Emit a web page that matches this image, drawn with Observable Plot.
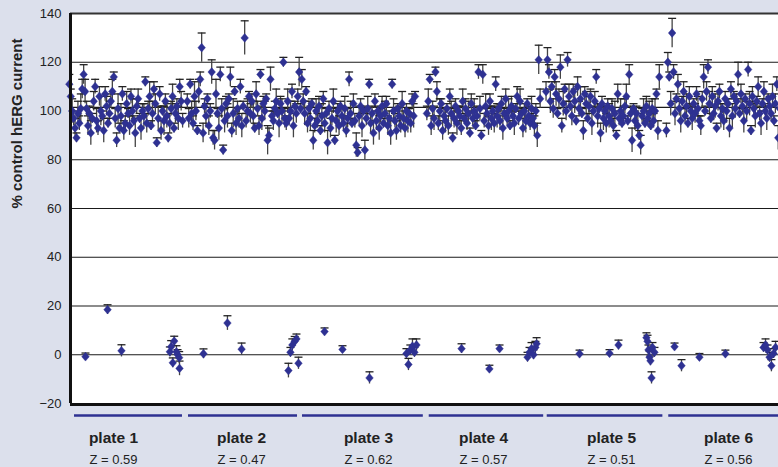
<!DOCTYPE html>
<html><head><meta charset="utf-8">
<script src="https://cdn.jsdelivr.net/npm/d3@7"></script>
<script src="https://cdn.jsdelivr.net/npm/@observablehq/plot@0.6"></script>
<style>
html,body{margin:0;padding:0;background:#dce0ec;}
#chart{width:778px;height:467px;overflow:hidden;}
</style></head><body><div id="chart"></div>
<script>
// ---- categories / labels ----
const plateNames = ["plate 1","plate 2","plate 3","plate 4","plate 5","plate 6"];
const zScores = ["Z = 0.59","Z = 0.47","Z = 0.62","Z = 0.57","Z = 0.51","Z = 0.56"];
// well-position extents of each plate (x data units = well index along the run)
const plateStart = [-1, 99, 196, 302, 403, 505];
const plateSpan = 96;
const lineStart = [3.4, 100, 196.6, 304, 404, 507];
const lineEnd = [94.9, 192.4, 299, 401, 502, 612];
const labelX = [36.4, 145, 252.5, 350, 458.5, 557.6];
const yTicks = [-20, 0, 20, 40, 60, 80, 100, 120, 140];
const gridValues = [0, 20, 40, 60, 80, 120];
const controlMean = 101.5;

// ---- test compounds, % control hERG current, per plate ----
const plate1 = [111,106,100,97,93,89,99,95,101,109, 115,108,101,94,99,91,97,104,110,96,
  93,106,100,98,92,107,102,95,99,104, 108,114,97,88,101,93,98,107,92,95,
  103,99,94,106,100,96,91,102,105,97, 93,100,98,112,95,101,106,94,99,109,
  103,87,97,107,92,100,96,104,98,89, 95,101,106,93,99,102,97,110,104,96];
const plate2 = [104,97,111,99,95,106,100,92,108,113, 126,91,102,98,105,94,100,116,89,88,
  107,99,93,115,101,84,96,103,98,105, 114,92,99,108,95,101,97,110,94,102,
  130,96,100,106,99,104,98,93,107,101, 94,115,97,103,100,105,88,90,113,98,
  96,101,104,99,95,103,100,120,97,95, 104,97,100,108,94,102,99,106,116,101];
const plate3 = [113,104,99,108,95,101,97,103,88,94, 100,96,102,92,98,105,95,99,87,101,
  93,97,104,88,96,100,94,102,98,95, 101,92,97,113,99,95,103,96,86,83,
  98,102,94,100,84,97,101,111,95,99, 91,104,96,100,93,98,102,95,99,103,
  94,97,91,111,100,96,92,101,98,94, 103,97,93,100,96,99,95,104,98,106];
const plate4 = [99,104,113,94,101,97,116,108,95,100, 103,92,98,96,101,94,106,99,89,97,
  102,95,100,98,93,104,97,101,95,99, 91,103,97,100,94,98,116,101,90,115,
  96,102,99,94,104,97,100,95,111,98, 101,96,103,93,99,105,97,100,94,102,
  98,95,101,106,97,104,99,93,100,96, 103,98,95,101,97,94,100,90,121,105];
const plate5 = [108,121,116,104,110,101,114,107,99,105, 118,94,103,109,100,121,106,102,98,108,
  104,96,110,101,105,99,92,107,103,97, 102,106,95,100,104,114,98,101,91,103,
  97,100,95,102,98,96,101,94,99,90, 107,97,100,95,98,102,106,96,115,99,
  88,101,96,99,94,90,86,98,100,95, 102,97,99,94,101,96,100,107,92,114];
const plate6 = [92,120,114,103,132,116,99,105,111,101, 96,104,108,98,102,95,106,100,97,103,
  99,107,101,96,94,105,114,100,108,118, 103,97,106,99,102,93,104,108,98,101,
  96,105,100,103,93,109,98,106,101,104, 115,99,107,102,96,105,100,117,103,92,
  106,101,98,104,110,99,95,103,108,100, 97,105,102,99,106,96,103,111,89,101];

// ---- error bar half-widths (one digit per well) ----
const err1 = "4353425364"+"4534352435"+"3462534253"+"5243625343"+"5243526342"+"5352436253"+"4253426352"+"4352435343";
const err2 = "3425364253"+"6435243534"+"6253425352"+"4362534352"+"7352436253"+"4253426352"+"4352635243"+"5343524362";
const err3 = "4352435243"+"5342534253"+"4352534243"+"5343524352"+"4352435243"+"5342534253"+"4352534243"+"5343524352";
const err4 = "3524352435"+"2435243524"+"3524352435"+"2435243524"+"3524352435"+"2435243524"+"3524352435"+"2435243564";
const err5 = "4535243524"+"5352435243"+"5243524352"+"4352435243"+"5243524352"+"4352435243"+"5243524352"+"4352435245";
const err6 = "3425635243"+"5243524352"+"4352435243"+"5243524352"+"4352435243"+"5243524352"+"4352435243"+"5243524352";

// ---- positive controls (near 0 %) ----
const ctrlWell = [12.7,31.4,43.2,84.2,85.3,86.7,87.9,89.8,90.7,92.1,92.4,
  112.7,133,145,184.7,186.4,188,190,191.5,193.2,
  215.3,230.5,253.4,284.7,286.4,288,289.8,291.5,293.2,
  331.4,355,363.6,387.3,389,390.7,392.4,394,395,
  431.4,456.8,464.4,488.1,489,489.8,490.7,491.5,492.4,493.2,494.9,
  511.9,517.8,533,555,587.3,589,590.7,592.4,594,595.8,597.5];
const ctrlValue = [-0.8,18.5,1.6,1.2,3.3,-3.3,5.6,1.2,0.1,-1.2,-5.6,
  0.4,13,2.3,-6.5,1,4,5.5,6.5,-3.5,
  9.5,2.2,-9.5,0.5,-4,2,3.5,1,4,
  2.5,-5.8,2.5,-1,1,2.5,0,3,4.5,
  0.4,0.6,4,7,5.5,2,-1,-2.5,-9.5,3,1,
  3.3,-4.5,-1,0.4,3,4,2,-1,-4.5,0.5,3];
const ctrlErr = [1.5,2,2.5,2,2.5,2,2,2.5,2,2.5,3,
  2,3,2.5,3,2,2.5,2,2,2.5,
  1.5,1.5,2.5,2,2.5,2,3,2,2.5,
  2,1.5,1.5,2,2,2.5,2,2.5,2.5,
  1.5,1.5,2,2,2.5,2,2.5,2,2.5,2,2,
  1.5,2.5,1.5,1.5,2,2.5,2,2,2.5,2,2.5];

// ---- build table ----
const plates = [plate1, plate2, plate3, plate4, plate5, plate6];
const errs = [err1, err2, err3, err4, err5, err6];
const points = [];
plates.forEach((vals, p) => vals.forEach((v, i) => points.push({
  x: plateStart[p] + i * plateSpan / (vals.length - 1), y: v, e: +errs[p][i] || 3
})));
ctrlWell.forEach((w, i) => points.push({x: w, y: ctrlValue[i], e: ctrlErr[i]}));
const plateTable = plateNames.map((n, i) => ({name: n, z: zScores[i], x1: lineStart[i], x2: lineEnd[i], lx: labelX[i]}));

const diamond = {draw(c) { c.moveTo(0,-4.4); c.lineTo(3.8,0); c.lineTo(0,4.4); c.lineTo(-3.8,0); c.closePath(); }};
const cap = {draw(c) { c.moveTo(-4,0); c.lineTo(4,0); }};
const navy = "#2e3192";

const chart = Plot.plot({
  width: 778, height: 467,
  marginLeft: 70, marginRight: 0, marginTop: 13, marginBottom: 64,
  style: {background: "#dce0ec", fontFamily: "'Liberation Sans', Arial, Helvetica, sans-serif", fontSize: "12.5px", color: "#222"},
  x: {domain: [0, 600], axis: null},
  y: {domain: [-20, 140]},
  marks: [
    Plot.frame({fill: "white", stroke: "none"}),
    Plot.ruleY(gridValues, {stroke: "#1a1a1a", strokeWidth: 1.2}),
    Plot.ruleY([controlMean], {stroke: "#1a1a1a", strokeWidth: 1.2}),
    Plot.ruleY([140], {stroke: "#333", strokeWidth: 2}),
    Plot.ruleX(points, {x: "x", y1: d => d.y - d.e, y2: d => d.y + d.e, stroke: "#444", strokeWidth: 1.3, clip: true}),
    Plot.dot(points, {x: "x", y: d => d.y + d.e, symbol: cap, fill: "none", stroke: "#222", strokeWidth: 1.3, clip: true}),
    Plot.dot(points, {x: "x", y: "y", symbol: diamond, fill: navy, stroke: navy, strokeWidth: 0.4}),
    Plot.ruleX([0], {stroke: "#111", strokeWidth: 3}),
    Plot.ruleY([-20], {stroke: "#111", strokeWidth: 3, dy: 1}),
    Plot.axisY(yTicks, {tickSize: 0, tickPadding: 9, fontSize: 13, fill: "#222", label: null}),
    Plot.text(["% control hERG current"], {frameAnchor: "left", dx: -53, rotate: -90, fontWeight: "bold", fontSize: 15, fill: "#222"}),
    Plot.ruleY(plateTable, {y: () => -20, x1: "x1", x2: "x2", dy: 12, stroke: navy, strokeWidth: 2.5}),
    Plot.text(plateTable, {x: "lx", y: () => -20, dy: 35, text: "name", fontWeight: "bold", fontSize: 15.5, fill: "#222"}),
    Plot.text(plateTable, {x: "lx", y: () => -20, dy: 56, text: "z", fontSize: 13, fill: "#222"})
  ]
});
document.getElementById("chart").appendChild(chart);
</script></body></html>
